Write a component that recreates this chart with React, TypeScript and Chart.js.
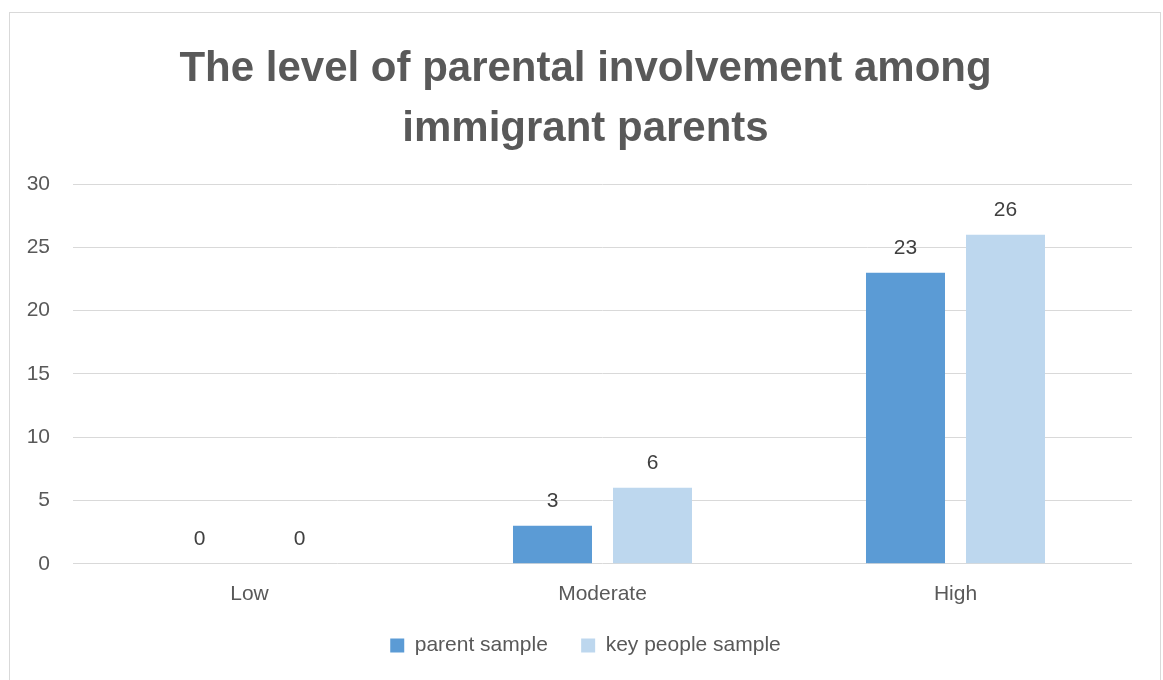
import React, { useEffect, useRef } from "react";
import { Chart, registerables } from "chart.js";

Chart.register(...registerables);

const categories = ["Low", "Moderate", "High"];
const parentSample = [0, 3, 23];
const keyPeopleSample = [0, 6, 26];
const seriesNames = ["parent sample", "key people sample"];
const titleLines = ["The level of parental involvement among", "immigrant parents"];
const yTicks = [0, 5, 10, 15, 20, 25, 30];

const FONT = "'Liberation Sans', Arial, sans-serif";
const TEXT = "#595959";

const dataLabels = {
  id: "dataLabels",
  afterDatasetsDraw(chart: any) {
    const ctx = chart.ctx;
    ctx.save();
    ctx.font = `21px ${FONT}`;
    ctx.fillStyle = "#404040";
    ctx.textAlign = "center";
    ctx.textBaseline = "middle";
    chart.data.datasets.forEach((ds: any, di: number) => {
      const meta = chart.getDatasetMeta(di);
      meta.data.forEach((el: any, i: number) => {
        ctx.fillText(String(ds.data[i]), el.x, el.y - 25);
      });
    });
    ctx.restore();
  },
};

export default function App() {
  const ref = useRef<HTMLCanvasElement>(null);
  useEffect(() => {
    const chart = new Chart(ref.current!, {
      type: "bar",
      data: {
        labels: categories,
        datasets: [
          { label: seriesNames[0], data: parentSample, backgroundColor: "#5B9BD5" },
          { label: seriesNames[1], data: keyPeopleSample, backgroundColor: "#BDD7EE" },
        ],
      },
      options: {
        animation: false,
        responsive: false,
        categoryPercentage: 0.5666,
        barPercentage: 0.79,
        layout: { padding: { left: 0, right: -8, top: 0, bottom: 14 } },
        plugins: {
          title: {
            display: true,
            text: titleLines,
            color: TEXT,
            font: { family: FONT, size: 42, weight: "bold", lineHeight: 1.43 },
            padding: { top: 39, bottom: 25 },
          },
          legend: {
            position: "bottom",
            labels: {
              color: TEXT,
              font: { family: FONT, size: 21 },
              boxWidth: 14,
              boxHeight: 14,
              padding: 10,
              generateLabels(chart: any) {
                const items = Chart.defaults.plugins.legend.labels.generateLabels(chart);
                return items.map((it: any, i: number) =>
                  i < items.length - 1 ? { ...it, text: it.text + "    " } : it
                );
              },
            },
          },
          tooltip: { enabled: false },
        },
        scales: {
          x: {
            grid: { display: false, drawTicks: false },
            border: { display: false },
            ticks: { color: TEXT, font: { family: FONT, size: 21 }, padding: 18 },
          },
          y: {
            min: 0,
            max: 30,
            afterFit(scale: any) {
              scale.width = 73;
            },
            afterBuildTicks(scale: any) {
              scale.ticks = yTicks.map((v) => ({ value: v }));
            },
            grid: { color: "#D9D9D9", lineWidth: 1, drawTicks: false },
            border: { display: false },
            ticks: { color: TEXT, font: { family: FONT, size: 21 }, padding: 23 },
          },
          spacer: {
            type: "linear",
            position: "right",
            afterFit(scale: any) {
              scale.width = 39;
            },
            grid: { display: false, drawTicks: false },
            border: { display: false },
            ticks: { display: false },
          },
        },
      },
      plugins: [dataLabels],
    });
    return () => chart.destroy();
  }, []);
  return (
    <div style={{ position: "fixed", left: 0, top: 0, width: 1163, height: 680, background: "#fff", overflow: "hidden" }}>
      <div style={{ position: "absolute", left: 9, top: 12, width: 1150, height: 700, border: "1px solid #D9D9D9" }} />
      <canvas ref={ref} width={1163} height={680} style={{ position: "absolute", left: 0, top: 0 }} />
    </div>
  );
}
